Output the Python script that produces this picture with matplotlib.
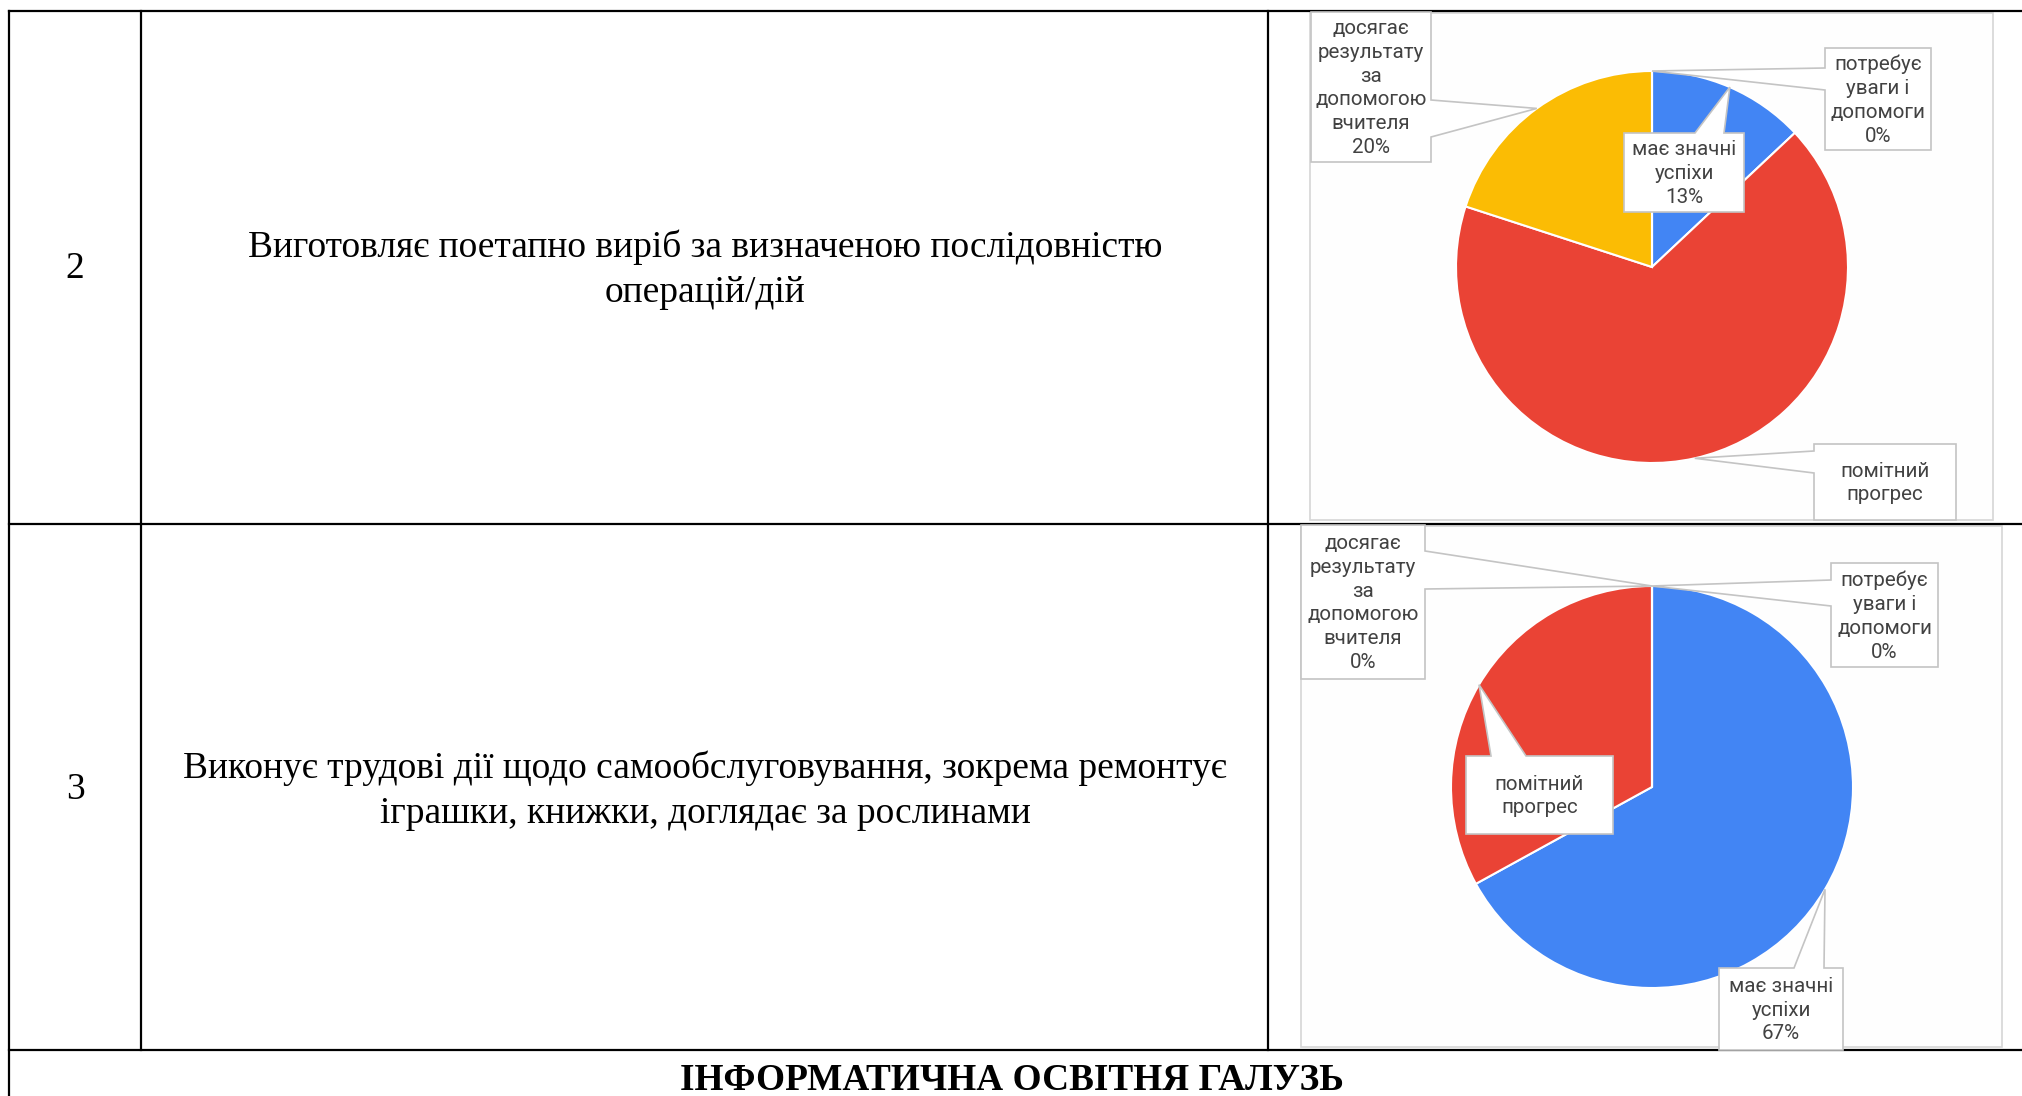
import numpy as np
import matplotlib.pyplot as plt
from matplotlib.patches import Polygon, Rectangle

# ============== дані ==============
categories = ['має значні успіхи', 'помітний прогрес',
              'досягає результату за допомогою вчителя', 'потребує уваги і допомоги']
# переноси рядків у підписах (як у Google Sheets)
label_lines = [['має значні', 'успіхи'],
               ['помітний', 'прогрес'],
               ['досягає', 'результату', 'за', 'допомогою', 'вчителя'],
               ['потребує', 'уваги і', 'допомоги']]
colors = ['#4285F4', '#EA4335', '#FBBC04', '#34A853']

row_numbers = ['2', '3']
row_texts = ['Виготовляє поетапно виріб за визначеною послідовністю\nоперацій/дій',
             'Виконує трудові дії щодо самообслуговування, зокрема ремонтує\nіграшки, книжки, доглядає за рослинами']
values_row2 = [13, 67, 20, 0]
values_row3 = [67, 33, 0, 0]
# чи видно відсоток у підписі
show_pct_row2 = [True, False, True, True]
show_pct_row3 = [True, False, True, True]
footer = 'ІНФОРМАТИЧНА ОСВІТНЯ ГАЛУЗЬ'

# ============== розмітка (пікселі, відлік згори) ==============
W, H = 2022, 1096
fig = plt.figure(figsize=(W / 100, H / 100), dpi=100)

ax_bg = fig.add_axes([0, 0, 1, 1])
ax_bg.set_xlim(0, W)
ax_bg.set_ylim(H, 0)
ax_bg.axis('off')

# таблиця
lw_tab = 1.6
x_left, x_c1, x_c2 = 9, 141, 1268
y_top, y_r1, y_r2 = 11, 524, 1050
for y in [y_top, y_r1, y_r2]:
    ax_bg.plot([x_left, W], [y, y], color='black', lw=lw_tab, solid_capstyle='projecting')
ax_bg.plot([x_left, x_left], [y_top, H], color='black', lw=lw_tab)
for x in [x_c1, x_c2]:
    ax_bg.plot([x, x], [y_top, y_r2], color='black', lw=lw_tab)

serif = ['Liberation Serif', 'DejaVu Serif']
row_centers = [270, 791]
for num, txt, yc in zip(row_numbers, row_texts, row_centers):
    ax_bg.text(75, yc - 1, num, ha='center', va='center', fontsize=27, family=serif)
    ax_bg.text(705, yc, txt, ha='center', va='center', fontsize=27, family=serif,
               multialignment='center', linespacing=1.38)
ax_bg.text(1012, 1080, footer, ha='center', va='center', fontsize=26.8,
           family=serif, fontweight='bold')

# фон діаграм
for (x0, y0, x1, y1) in [(1310, 13, 1993, 520), (1301, 526, 2002, 1047)]:
    ax_bg.add_patch(Rectangle((x0, y0), x1 - x0, y1 - y0, facecolor='#fefefe',
                              edgecolor='#d6d6d6', lw=1.2))

# ============== діаграми ==============
pies = [
    dict(values=values_row2, show=show_pct_row2, cx=1652, cy=267, r=196,
         boxes=[(1624, 133, 1744, 212, 'top', 1695, 1724),
                (1814, 444, 1956, 520, 'left', 451, 473),
                (1311, 12, 1431, 162, 'right', 100, 137),
                (1825, 48, 1931, 150, 'left', 68, 90)]),
    dict(values=values_row3, show=show_pct_row3, cx=1652, cy=787, r=201,
         boxes=[(1719, 968, 1843, 1050, 'top', 1794, 1824),
                (1466, 756, 1613, 834, 'top', 1491, 1526),
                (1301, 525, 1425, 679, 'right', 551, 589),
                (1831, 563, 1938, 667, 'left', 580, 606)]),
]

for p in pies:
    cx, cy, r = p['cx'], p['cy'], p['r']
    ax_p = fig.add_axes([(cx - r) / W, 1 - (cy + r) / H, 2 * r / W, 2 * r / H])
    ax_p.pie(p['values'], colors=colors, startangle=90, counterclock=False,
             wedgeprops=dict(edgecolor='white', linewidth=1.5))
    ax_p.set_xlim(-1, 1)
    ax_p.set_ylim(-1, 1)
    ax_p.axis('off')

ax_top = fig.add_axes([0, 0, 1, 1])
ax_top.set_xlim(0, W)
ax_top.set_ylim(H, 0)
ax_top.axis('off')
ax_top.patch.set_alpha(0)

sans = ['Roboto', 'DejaVu Sans']
for p in pies:
    vals = np.array(p['values'], dtype=float)
    total = vals.sum()
    cum = np.concatenate([[0], np.cumsum(vals)[:-1]])
    for i, (v, c0) in enumerate(zip(vals, cum)):
        # середина сектора -> точка на краю кола
        theta = 360 * (c0 + v / 2) / total
        a = np.deg2rad(90 - theta)
        tip = (p['cx'] + p['r'] * np.cos(a), p['cy'] - p['r'] * np.sin(a))
        x0, y0, x1, y1, side, b0, b1 = p['boxes'][i]
        if side == 'top':
            pts = [(x0, y0), (b0, y0), tip, (b1, y0), (x1, y0), (x1, y1), (x0, y1)]
        elif side == 'left':
            pts = [(x0, y0), (x1, y0), (x1, y1), (x0, y1), (x0, b1), tip, (x0, b0)]
        else:
            pts = [(x0, y0), (x1, y0), (x1, b0), tip, (x1, b1), (x1, y1), (x0, y1)]
        ax_top.add_patch(Polygon(pts, closed=True, facecolor='white',
                                 edgecolor='#c4c4c4', lw=1.2, joinstyle='miter'))
        lines = list(label_lines[i])
        if p['show'][i]:
            lines.append(f'{v / total * 100:.0f}%')
        ax_top.text((x0 + x1) / 2, (y0 + y1) / 2 + 1, '\n'.join(lines), ha='center',
                    va='center', fontsize=14.8, family=sans, color='#424242',
                    linespacing=1.33)

fig.savefig('out.png', dpi=100)
